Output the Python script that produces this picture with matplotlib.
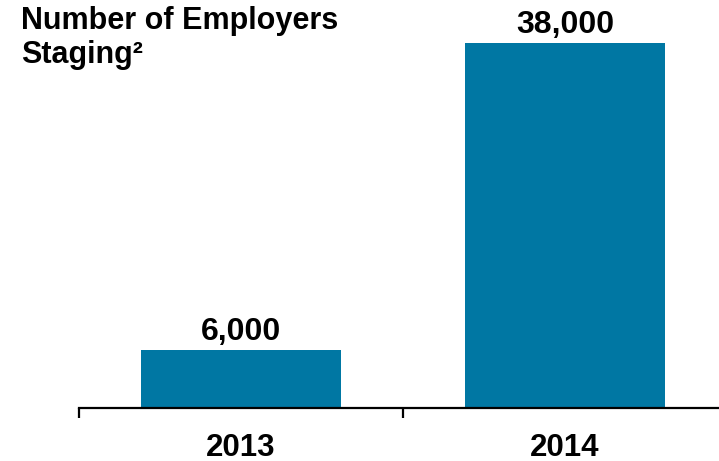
import matplotlib
matplotlib.use("Agg")
import matplotlib.pyplot as plt

years = ["2013", "2014"]
employers = [6000, 38000]
value_labels = ["6,000", "38,000"]

plt.rcParams["font.family"] = ["Liberation Sans", "DejaVu Sans"]
plt.rcParams["font.weight"] = "bold"

fig = plt.figure(figsize=(7.19, 4.61), dpi=100)
ax = fig.add_axes([79 / 719, 1 - 407.5 / 461, 648 / 719, (407.5 - 23.8) / 461])

x = list(range(len(years)))
bars = ax.bar(x, employers, width=0.62, color="#0077A3", zorder=2)

for xi, v, lab in zip(x, employers, value_labels):
    ax.text(xi, v + 1000, lab, ha="center", va="baseline",
            fontsize=23, fontweight="bold", color="black")

ax.set_xlim(-0.5, 1.5)
ax.set_ylim(0, 40000)

for s in ["top", "right", "left"]:
    ax.spines[s].set_visible(False)
ax.spines["bottom"].set_linewidth(1.6)
ax.spines["bottom"].set_color("black")

ax.set_yticks([])
ax.set_xticks(x)
ax.set_xticklabels(years, fontsize=22.5, fontweight="bold")
ax.tick_params(axis="x", which="major", length=0, pad=18)
ax.set_xticks([-0.5, 0.5, 1.5], minor=True)
ax.tick_params(axis="x", which="minor", length=7.5, width=1.6, direction="out", color="black")

fig.text(21 / 719, 1 - 29 / 461, "Number of Employers", ha="left", va="baseline",
         fontsize=22, fontweight="bold")
fig.text(21 / 719, 1 - 63 / 461, "Staging²", ha="left", va="baseline",
         fontsize=22, fontweight="bold")

fig.savefig("out.png", dpi=100)
